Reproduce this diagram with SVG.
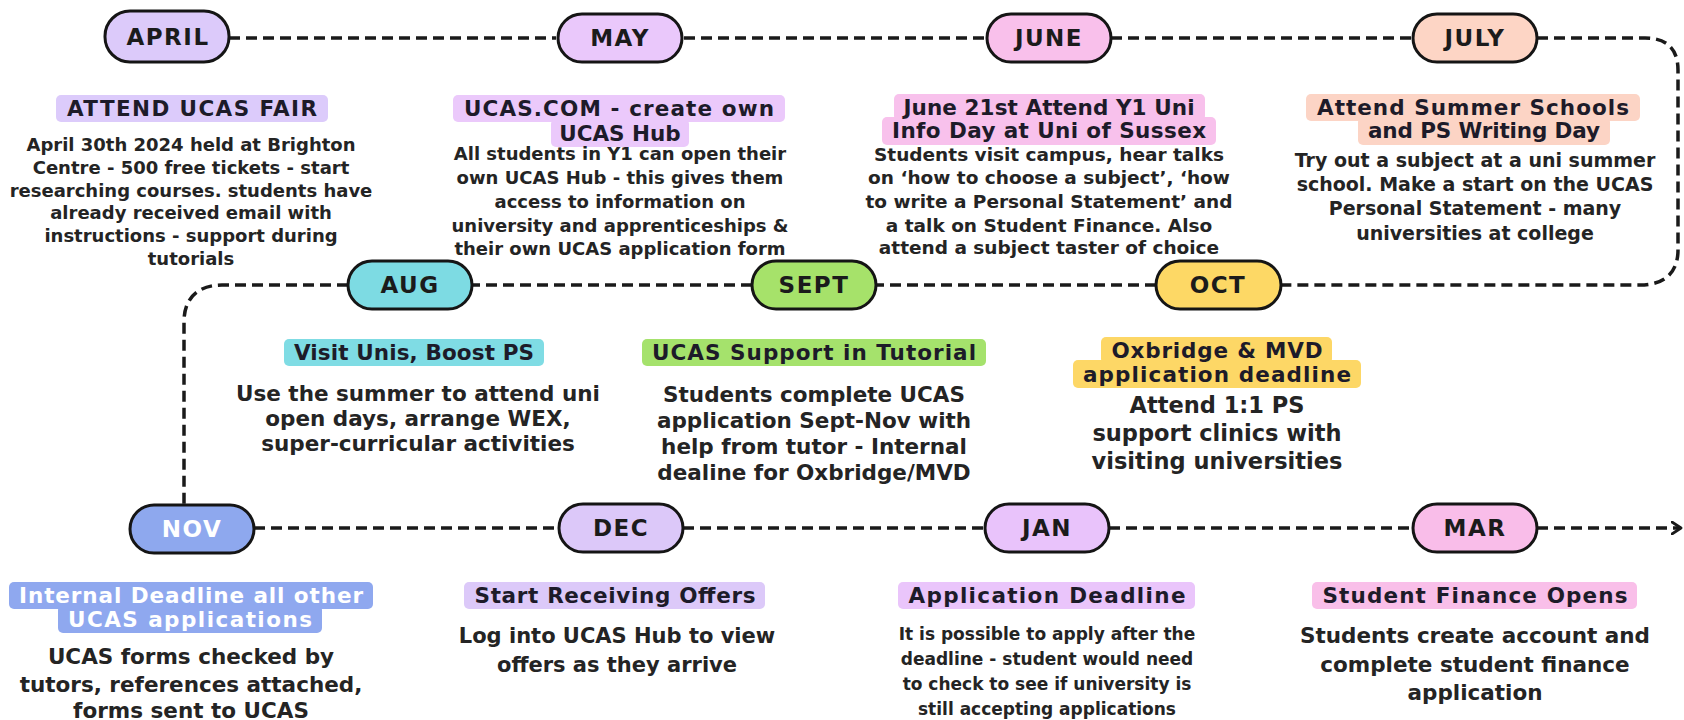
<svg xmlns="http://www.w3.org/2000/svg" width="1684" height="720" viewBox="0 0 1684 720">
<style>
.bg{fill:#ffffff}
.pill{stroke:#151515;stroke-width:3}
.mon{font-family:"DejaVu Sans",sans-serif;font-weight:700;font-size:23px;letter-spacing:1.5px;fill:#1b1b1b;text-anchor:middle}
.hd{font-family:"DejaVu Sans",sans-serif;font-weight:700;font-size:21.5px;fill:#1d1b29;text-anchor:middle}
.bd{font-family:"DejaVu Sans",sans-serif;font-weight:700;fill:#242424;text-anchor:middle}
.conn{fill:none;stroke:#1a1a1a;stroke-width:3.5;stroke-dasharray:11 6}
</style>
<defs>
<marker id="arr" viewBox="0 0 12 14" refX="10" refY="7" markerWidth="12" markerHeight="14" markerUnits="userSpaceOnUse" orient="auto">
<path d="M1 1 L10 7 L1 13" fill="none" stroke="#1a1a1a" stroke-width="2.8" stroke-linecap="round" stroke-linejoin="round"/>
</marker>
</defs>
<rect class="bg" x="0" y="0" width="1684" height="720"/>
<g id="connectors">
<path class="conn" d="M229 38 H556"/>
<path class="conn" d="M684 38 H987"/>
<path class="conn" d="M1111 38 H1413"/>
<path class="conn" d="M1537 38 H1645 C1668 38 1678 50 1678 70 V250 C1678 272 1665 285 1640 285 H1281"/>
<path class="conn" d="M1156 285 H876"/>
<path class="conn" d="M752 285 H472"/>
<path class="conn" d="M348 285 H222 C198 285 184 298 184 322 V505"/>
<path class="conn" d="M254 528 H559"/>
<path class="conn" d="M683 528 H985"/>
<path class="conn" d="M1109 528 H1413"/>
<path class="conn" d="M1537 528 H1681" marker-end="url(#arr)"/>
</g>

<g id="node-april">
<rect class="pill" x="105" y="11" width="124" height="51" rx="25" fill="#dccafa"/>
<text class="mon" x="168" y="45">APRIL</text>
<rect x="56" y="95" width="272" height="27" rx="5" fill="#dccbfb"/>
<text class="hd" x="192" y="116" textLength="250" lengthAdjust="spacing">ATTEND UCAS FAIR</text>
<text class="bd" font-size="18" x="191" y="151">April 30th 2024 held at Brighton</text>
<text class="bd" font-size="18" x="191" y="174">Centre - 500 free tickets - start</text>
<text class="bd" font-size="18" x="191" y="197">researching courses. students have</text>
<text class="bd" font-size="18" x="191" y="219">already received email with</text>
<text class="bd" font-size="18" x="191" y="242">instructions - support during</text>
<text class="bd" font-size="18" x="191" y="265">tutorials</text>
</g>

<g id="node-may">
<rect class="pill" x="558" y="14" width="124" height="48" rx="24" fill="#eac8fb"/>
<text class="mon" x="620" y="46">MAY</text>
<rect x="453" y="95" width="332" height="27" rx="5" fill="#ebc9fb"/>
<rect x="551" y="119" width="138" height="28" rx="5" fill="#ebc9fb"/>
<text class="hd" x="619" y="116" textLength="310" lengthAdjust="spacing">UCAS.COM - create own</text>
<text class="hd" x="620" y="141">UCAS Hub</text>
<text class="bd" font-size="18" x="620" y="160">All students in Y1 can open their</text>
<text class="bd" font-size="18" x="620" y="184">own UCAS Hub - this gives them</text>
<text class="bd" font-size="18" x="620" y="208">access to information on</text>
<text class="bd" font-size="18" x="620" y="232">university and apprenticeships &amp;</text>
<text class="bd" font-size="18" x="620" y="255">their own UCAS application form</text>
</g>

<g id="node-june">
<rect class="pill" x="987" y="14" width="124" height="48" rx="24" fill="#f9c0eb"/>
<text class="mon" x="1049" y="46">JUNE</text>
<rect x="894" y="94" width="311" height="27" rx="5" fill="#f8c1ec"/>
<rect x="882" y="117" width="334" height="28" rx="5" fill="#f8c1ec"/>
<text class="hd" x="1049" y="115" textLength="291" lengthAdjust="spacing">June 21st Attend Y1 Uni</text>
<text class="hd" x="1049" y="138" textLength="314" lengthAdjust="spacing">Info Day at Uni of Sussex</text>
<text class="bd" font-size="18.5" x="1049" y="161">Students visit campus, hear talks</text>
<text class="bd" font-size="18.5" x="1049" y="184">on ‘how to choose a subject’, ‘how</text>
<text class="bd" font-size="18.5" x="1049" y="208">to write a Personal Statement’ and</text>
<text class="bd" font-size="18.5" x="1049" y="232">a talk on Student Finance. Also</text>
<text class="bd" font-size="18.5" x="1049" y="254">attend a subject taster of choice</text>
</g>

<g id="node-july">
<rect class="pill" x="1413" y="14" width="124" height="48" rx="24" fill="#fdd5c5"/>
<text class="mon" x="1475" y="46">JULY</text>
<rect x="1306" y="94" width="334" height="27" rx="5" fill="#fcd4c5"/>
<rect x="1358" y="117" width="252" height="28" rx="5" fill="#fcd4c5"/>
<text class="hd" x="1473" y="115" textLength="312" lengthAdjust="spacing">Attend Summer Schools</text>
<text class="hd" x="1484" y="138" textLength="232" lengthAdjust="spacing">and PS Writing Day</text>
<text class="bd" font-size="19" x="1475" y="167">Try out a subject at a uni summer</text>
<text class="bd" font-size="19" x="1475" y="191">school. Make a start on the UCAS</text>
<text class="bd" font-size="19" x="1475" y="215">Personal Statement - many</text>
<text class="bd" font-size="19" x="1475" y="240">universities at college</text>
</g>

<g id="node-aug">
<rect class="pill" x="348" y="261" width="124" height="48" rx="24" fill="#7ddbe3"/>
<text class="mon" x="410" y="293">AUG</text>
<rect x="284" y="339" width="260" height="27" rx="5" fill="#7fdce4"/>
<text class="hd" x="414" y="360" textLength="240" lengthAdjust="spacing">Visit Unis, Boost PS</text>
<text class="bd" font-size="21.5" x="418" y="401">Use the summer to attend uni</text>
<text class="bd" font-size="21.5" x="418" y="426">open days, arrange WEX,</text>
<text class="bd" font-size="21.5" x="418" y="451">super-curricular activities</text>
</g>

<g id="node-sept">
<rect class="pill" x="752" y="261" width="124" height="48" rx="24" fill="#a6e26a"/>
<text class="mon" x="814" y="293">SEPT</text>
<rect x="642" y="339" width="344" height="27" rx="5" fill="#a5e26c"/>
<text class="hd" x="814" y="360" textLength="324" lengthAdjust="spacing">UCAS Support in Tutorial</text>
<text class="bd" font-size="21.5" x="814" y="402">Students complete UCAS</text>
<text class="bd" font-size="21.5" x="814" y="428">application Sept-Nov with</text>
<text class="bd" font-size="21.5" x="814" y="454">help from tutor - Internal</text>
<text class="bd" font-size="21.5" x="814" y="480">dealine for Oxbridge/MVD</text>
</g>

<g id="node-oct">
<rect class="pill" x="1156" y="261" width="125" height="48" rx="24" fill="#fdd865"/>
<text class="mon" x="1218" y="293">OCT</text>
<rect x="1101" y="337" width="231" height="27" rx="5" fill="#fdd766"/>
<rect x="1073" y="360" width="288" height="28" rx="5" fill="#fdd766"/>
<text class="hd" x="1217" y="358" textLength="211" lengthAdjust="spacing">Oxbridge &amp; MVD</text>
<text class="hd" x="1217" y="382" textLength="268" lengthAdjust="spacing">application deadline</text>
<text class="bd" font-size="22.5" x="1217" y="413">Attend 1:1 PS</text>
<text class="bd" font-size="22.5" x="1217" y="441">support clinics with</text>
<text class="bd" font-size="22.5" x="1217" y="469">visiting universities</text>
</g>

<g id="node-nov">
<rect class="pill" x="130" y="505" width="124" height="48" rx="24" fill="#8ea8ee"/>
<text class="mon" x="192" y="537" style="fill:#ffffff">NOV</text>
<rect x="9" y="582" width="364" height="27" rx="5" fill="#8fa8ef"/>
<rect x="58" y="605" width="264" height="28" rx="5" fill="#8fa8ef"/>
<text class="hd" x="191" y="603" textLength="344" lengthAdjust="spacing" style="fill:#ffffff">Internal Deadline all other</text>
<text class="hd" x="190" y="627" textLength="244" lengthAdjust="spacing" style="fill:#ffffff">UCAS applications</text>
<text class="bd" font-size="21.5" x="191" y="664">UCAS forms checked by</text>
<text class="bd" font-size="21.5" x="191" y="692">tutors, references attached,</text>
<text class="bd" font-size="21.5" x="191" y="718">forms sent to UCAS</text>
</g>

<g id="node-dec">
<rect class="pill" x="559" y="504" width="124" height="48" rx="24" fill="#dcc8f9"/>
<text class="mon" x="621" y="536">DEC</text>
<rect x="464" y="582" width="301" height="27" rx="5" fill="#dcc9f9"/>
<text class="hd" x="615" y="603" textLength="281" lengthAdjust="spacing">Start Receiving Offers</text>
<text class="bd" font-size="21" x="617" y="643">Log into UCAS Hub to view</text>
<text class="bd" font-size="21" x="617" y="672">offers as they arrive</text>
</g>

<g id="node-jan">
<rect class="pill" x="985" y="504" width="124" height="48" rx="24" fill="#e9c3fb"/>
<text class="mon" x="1047" y="536">JAN</text>
<rect x="898" y="582" width="297" height="27" rx="5" fill="#eac5fb"/>
<text class="hd" x="1047" y="603" textLength="277" lengthAdjust="spacing">Application Deadline</text>
<text class="bd" font-size="17" x="1047" y="640">It is possible to apply after the</text>
<text class="bd" font-size="17" x="1047" y="665">deadline - student would need</text>
<text class="bd" font-size="17" x="1047" y="690">to check to see if university is</text>
<text class="bd" font-size="17" x="1047" y="715">still accepting applications</text>
</g>

<g id="node-mar">
<rect class="pill" x="1413" y="504" width="124" height="48" rx="24" fill="#f9bde9"/>
<text class="mon" x="1475" y="536">MAR</text>
<rect x="1312" y="582" width="325" height="27" rx="5" fill="#f9bfe9"/>
<text class="hd" x="1475" y="603" textLength="305" lengthAdjust="spacing">Student Finance Opens</text>
<text class="bd" font-size="21.5" x="1475" y="643">Students create account and</text>
<text class="bd" font-size="21.5" x="1475" y="672">complete student finance</text>
<text class="bd" font-size="21.5" x="1475" y="700">application</text>
</g>
</svg>
